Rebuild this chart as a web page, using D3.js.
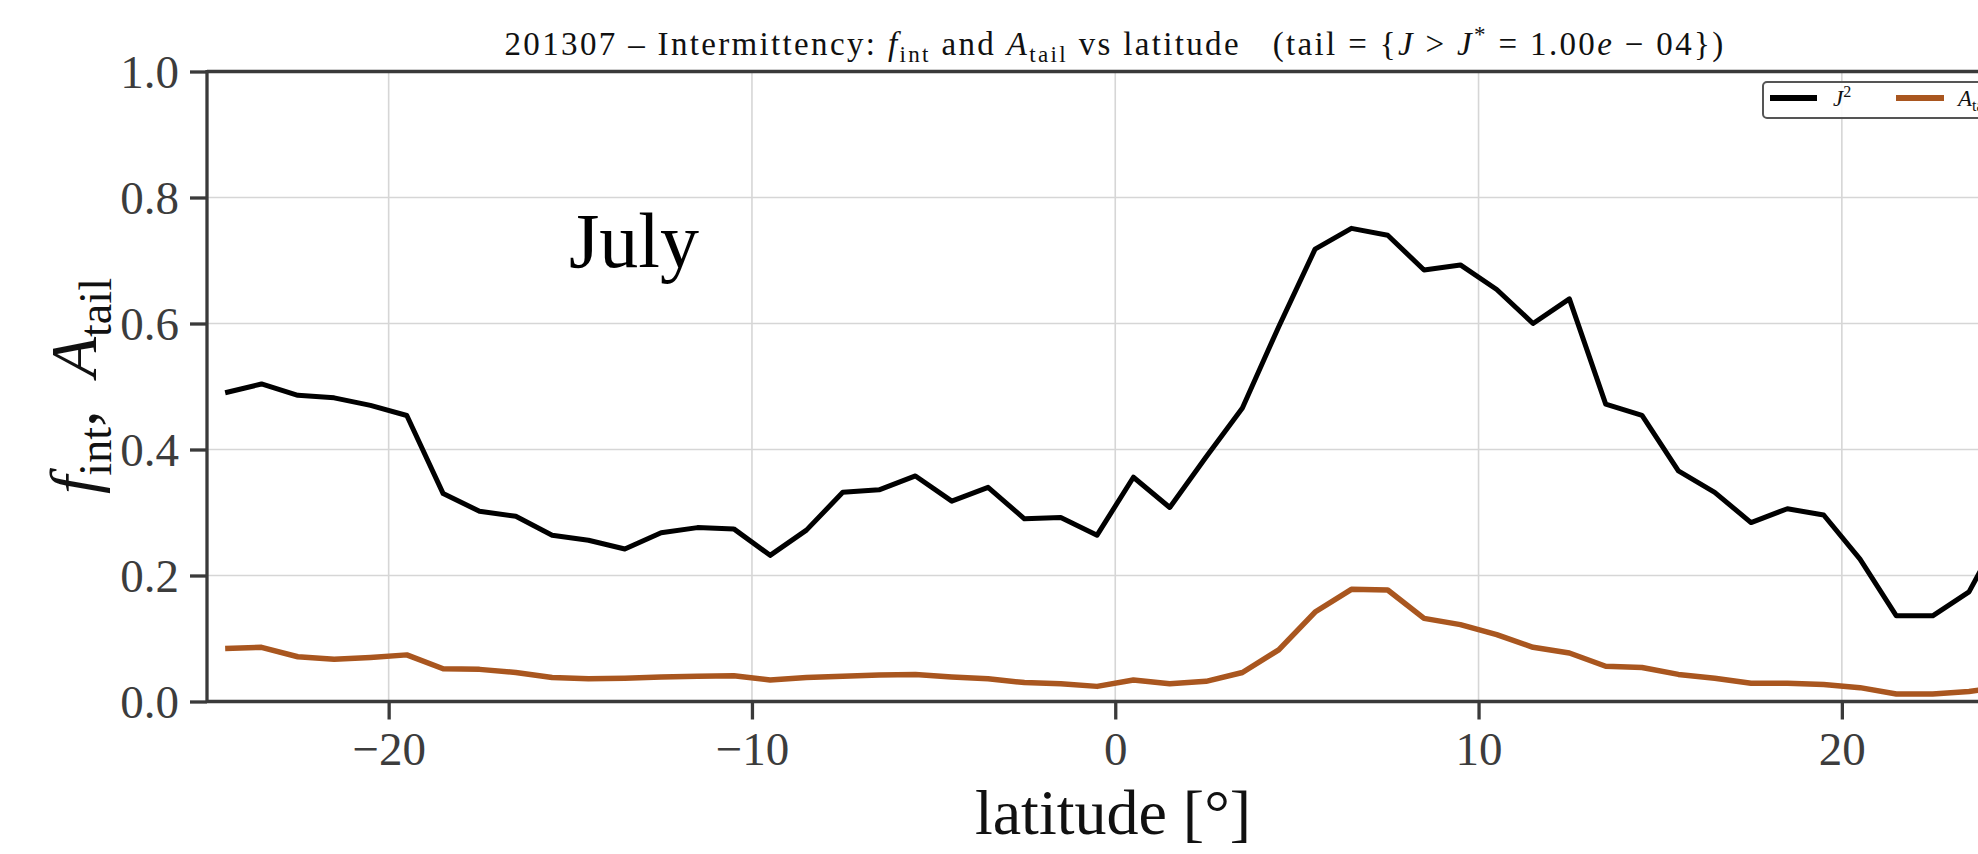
<!DOCTYPE html>
<html>
<head>
<meta charset="utf-8">
<script src="https://cdn.jsdelivr.net/npm/d3@7"></script>
<style>
  html, body { margin: 0; padding: 0; background: #fff; }
  svg { display: block; }
  text { font-family: "Liberation Serif", "DejaVu Serif", serif; white-space: pre; }
</style>
</head>
<body>
<svg id="chart" width="1978" height="854"></svg>
<script>
// ---- data ----
const latitudes = [-24.5,-23.5,-22.5,-21.5,-20.5,-19.5,-18.5,-17.5,-16.5,-15.5,-14.5,-13.5,-12.5,-11.5,-10.5,-9.5,-8.5,-7.5,-6.5,-5.5,-4.5,-3.5,-2.5,-1.5,-0.5,
                   0.5,1.5,2.5,3.5,4.5,5.5,6.5,7.5,8.5,9.5,10.5,11.5,12.5,13.5,14.5,15.5,16.5,17.5,18.5,19.5,20.5,21.5,22.5,23.5,24.5];
const fInt = [0.490,0.504,0.486,0.482,0.470,0.454,0.330,0.302,0.294,0.264,0.256,0.242,0.268,0.276,0.274,0.232,0.272,0.332,0.336,0.358,0.318,0.340,0.290,0.292,0.264,
              0.356,0.308,0.388,0.466,0.595,0.718,0.751,0.740,0.685,0.693,0.654,0.600,0.639,0.472,0.454,0.366,0.332,0.284,0.306,0.296,0.226,0.136,0.136,0.174,0.280];
const aTail = [0.084,0.086,0.071,0.067,0.070,0.074,0.052,0.051,0.046,0.038,0.036,0.037,0.039,0.040,0.041,0.034,0.038,0.040,0.042,0.043,0.039,0.036,0.030,0.028,0.024,
               0.034,0.028,0.032,0.046,0.082,0.142,0.178,0.177,0.132,0.122,0.106,0.086,0.077,0.056,0.054,0.043,0.037,0.029,0.029,0.027,0.022,0.012,0.012,0.016,0.024];
const xTicks = [-20,-10,0,10,20];
const yTicks = [0.0,0.2,0.4,0.6,0.8,1.0];
const xDomain = [-25, 25];
const yDomain = [0, 1];
const monthLabel = "July";

// ---- layout ----
const pLeft = 207, pRight = 2023.5, pTop = 71.5, pBottom = 701.5;
const spineColor = "#3a3a3a", tickColor = "#3c3c3c";
const black = "#000000", orange = "#a9561f";

const svg = d3.select("#chart");
svg.append("rect").attr("width",1978).attr("height",854).attr("fill","#fff");

const x = d3.scaleLinear().domain(xDomain).range([pLeft, pRight]);
const y = d3.scaleLinear().domain(yDomain).range([pBottom, pTop]);

// grid
const grid = svg.append("g");
grid.selectAll("line.vg").data(xTicks).join("line")
  .attr("x1", d => x(d)).attr("x2", d => x(d)).attr("y1", pTop).attr("y2", pBottom)
  .attr("stroke", "#d6d6d6").attr("stroke-width", 1.6);
grid.selectAll("line.hg").data(yTicks.filter(d => d > 0 && d < 1)).join("line")
  .attr("x1", pLeft).attr("x2", pRight).attr("y1", d => y(d)).attr("y2", d => y(d))
  .attr("stroke", "#d6d6d6").attr("stroke-width", 1.6);

// lines
const line = (vals) => d3.line().x((d,i) => x(latitudes[i])).y(d => y(d))(vals);
svg.append("path").attr("d", line(aTail)).attr("fill","none")
  .attr("stroke", orange).attr("stroke-width", 5.5).attr("stroke-linejoin","round");
svg.append("path").attr("d", line(fInt)).attr("fill","none")
  .attr("stroke", black).attr("stroke-width", 5).attr("stroke-linejoin","round");

// axes
const xAxis = d3.axisBottom(x).tickValues(xTicks).tickSize(18).tickPadding(12).tickFormat(d3.format("d"));
const yAxis = d3.axisLeft(y).tickValues(yTicks).tickSize(17).tickPadding(11).tickFormat(d3.format(".1f"));

const gx = svg.append("g").attr("transform", `translate(0,${pBottom})`).call(xAxis);
const gy = svg.append("g").attr("transform", `translate(${pLeft},0)`).call(yAxis);
[gx, gy].forEach(g => {
  g.select(".domain").remove();
  g.selectAll(".tick line").attr("stroke", spineColor).attr("stroke-width", 3.3);
  g.selectAll(".tick text").attr("fill", tickColor)
    .style("font-family", '"Liberation Serif", serif').style("font-size", "47px");
});
gx.selectAll(".tick text").attr("dy", "0.72em");
gy.selectAll(".tick text").attr("dy", "0.34em");

// spines
svg.append("line").attr("x1", pLeft).attr("x2", pLeft).attr("y1", pTop - 1.6).attr("y2", pBottom + 1.6)
  .attr("stroke", spineColor).attr("stroke-width", 3.3);
svg.append("line").attr("x1", pLeft).attr("x2", pRight).attr("y1", pBottom).attr("y2", pBottom)
  .attr("stroke", spineColor).attr("stroke-width", 3.3);
svg.append("line").attr("x1", pLeft).attr("x2", pRight).attr("y1", pTop).attr("y2", pTop)
  .attr("stroke", spineColor).attr("stroke-width", 3.3);
svg.append("line").attr("x1", pRight).attr("x2", pRight).attr("y1", pTop).attr("y2", pBottom)
  .attr("stroke", spineColor).attr("stroke-width", 3.3);

// rich text helper
function rich(g, parts, size) {
  const t = g.append("text").style("font-size", size + "px");
  let shift = 0;
  parts.forEach(p => {
    const s = t.append("tspan").text(p.t);
    let target = 0, fs = size;
    if (p.sub) { target = size * 0.22; fs = size * 0.7; }
    if (p.sup) { target = -size * 0.38; fs = size * 0.7; }
    s.attr("dy", target - shift).style("font-size", fs + "px");
    shift = target;
    if (p.i) s.style("font-style", "italic");
  });
  return t;
}

// title
const titleParts = [
  {t: "201307 – Intermittency: "}, {t: "f", i: true}, {t: "int", sub: true},
  {t: " and "}, {t: "A", i: true}, {t: "tail", sub: true},
  {t: " vs latitude   (tail = {"}, {t: "J", i: true}, {t: " > "}, {t: "J", i: true}, {t: "*", sup: true},
  {t: " = 1.00"}, {t: "e", i: true}, {t: " − 04})"}
];
const title = rich(svg.append("g").attr("transform", "translate(1115,55)"), titleParts, 33)
  .attr("text-anchor", "middle").attr("fill", "#111");
// widen letter spacing to match the reference title span (~1221 px)
{
  const w = title.node().getComputedTextLength();
  const n = titleParts.map(p => p.t).join("").length;
  const ls = (1221 - w) / n;
  if (ls > 0) title.style("letter-spacing", ls + "px");
}

// axis labels
svg.append("text").attr("x", 1113).attr("y", 834).attr("text-anchor", "middle")
  .style("font-size", "64px").attr("fill", "#111").text("latitude [°]");
rich(svg.append("g").attr("transform", "translate(96,386) rotate(-90)"), [
  {t: "f", i: true}, {t: "int", sub: true}, {t: ",  "}, {t: "A", i: true}, {t: "tail", sub: true}
], 66).attr("text-anchor", "middle").attr("fill", "#111");

// month annotation
svg.append("text").attr("x", 569).attr("y", 267).style("font-size", "78px")
  .attr("fill", "#000").text(monthLabel);

// legend
const lg = svg.append("g");
lg.append("rect").attr("x", 1763).attr("y", 82).attr("width", 248).attr("height", 36)
  .attr("rx", 4).attr("fill", "#fff").attr("fill-opacity", 0.9)
  .attr("stroke", "#555").attr("stroke-width", 2);
lg.append("line").attr("x1", 1770).attr("x2", 1817).attr("y1", 98).attr("y2", 98)
  .attr("stroke", black).attr("stroke-width", 6);
rich(lg.append("g").attr("transform", "translate(1833,106)"), [{t: "J", i: true}, {t: "2", sup: true}], 23).attr("fill", "#111");
lg.append("line").attr("x1", 1896).attr("x2", 1944).attr("y1", 98).attr("y2", 98)
  .attr("stroke", orange).attr("stroke-width", 6);
rich(lg.append("g").attr("transform", "translate(1958,106)"), [{t: "A", i: true}, {t: "tail", sub: true}], 23).attr("fill", "#111");
</script>
</body>
</html>
